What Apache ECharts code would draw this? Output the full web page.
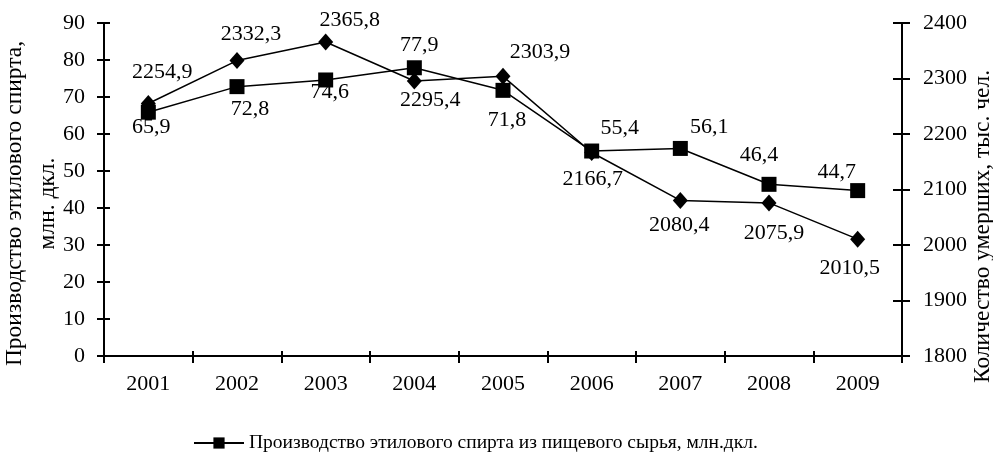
<!DOCTYPE html>
<html>
<head>
<meta charset="utf-8">
<style>
    html, body { margin: 0; padding: 0; background: #fff; }
    #chart { width: 993px; height: 452px; }
</style>
<script src="https://cdn.jsdelivr.net/npm/echarts@6/dist/echarts.min.js"></script>
</head>
<body>
<div id="chart"></div>
<script>
    // годы
    var years = ['2001', '2002', '2003', '2004', '2005', '2006', '2007', '2008', '2009'];
    // производство этилового спирта, млн. дкл.
    var spirit = [65.9, 72.8, 74.6, 77.9, 71.8, 55.4, 56.1, 46.4, 44.7];
    // количество умерших, тыс. чел.
    var deaths = [2254.9, 2332.3, 2365.8, 2295.4, 2303.9, 2166.7, 2080.4, 2075.9, 2010.5];

    // смещения подписей относительно точек
    var spiritLabelOffsets = [[3, 15], [13, 23], [4, 12], [5, -23], [4, 30], [28, -23], [29, -21], [-10, -29], [-21, -18]];
    var deathLabelOffsets = [[14, -31], [14, -26], [24, -22], [16, 19], [37, -24], [1, 27], [-1, 25], [5, 30], [-8, 29]];

    var font = '"Liberation Serif", "Times New Roman", serif';

    function fmt(v) {
        return v.toFixed(1).replace('.', ',');
    }

    function withLabels(values, offsets) {
        return values.map(function(v, i) {
            return {
                value: v,
                label: { offset: offsets[i] }
            };
        });
    }

    var myChart = echarts.init(document.getElementById('chart'));

    var axisLine = { show: true, lineStyle: { color: '#000', width: 2 } };
    var tickStyle = { color: '#000', width: 2 };

    var option = {
        animation: false,
        backgroundColor: '#fff',
        textStyle: { fontFamily: font, color: '#000' },
        grid: {
            left: 104,
            right: 91,
            top: 23,
            bottom: 96,
            containLabel: false,
            outerBoundsMode: 'none'
        },
        legend: {
            data: ['Производство этилового спирта из пищевого сырья, млн.дкл.'],
            left: 188,
            top: 428,
            itemWidth: 50,
            itemHeight: 14,
            itemGap: 6,
            textStyle: { fontFamily: font, fontSize: 19.5, color: '#000' }
        },
        xAxis: [{
            type: 'category',
            data: years,
            boundaryGap: true,
            axisLine: axisLine,
            axisTick: { show: true, inside: false, length: 7, lineStyle: tickStyle },
            axisLabel: { margin: 17, fontFamily: font, fontSize: 22, color: '#000' },
            splitLine: { show: false }
        }, {
            // внутренние засечки
            type: 'category',
            data: years,
            position: 'bottom',
            boundaryGap: true,
            axisLine: { show: false },
            axisTick: { show: true, inside: true, length: 5, lineStyle: tickStyle },
            axisLabel: { show: false },
            splitLine: { show: false }
        }],
        yAxis: [{
            type: 'value',
            position: 'left',
            min: 0,
            max: 90,
            interval: 10,
            name: 'Производство этилового спирта,\nмлн. дкл.',
            nameLocation: 'middle',
            nameGap: 40,
            nameRotate: 90,
            nameMoveOverlap: false,
            nameTextStyle: { fontFamily: font, fontSize: 23.5, color: '#000', lineHeight: 33, padding: [0, 28, 0, 0] },
            axisLine: axisLine,
            axisTick: { show: true, inside: false, length: 7, lineStyle: tickStyle },
            axisLabel: { margin: 19, fontFamily: font, fontSize: 22, color: '#000' },
            splitLine: { show: false }
        }, {
            type: 'value',
            position: 'right',
            min: 1800,
            max: 2400,
            interval: 100,
            name: 'Количество умерших, тыс. чел.',
            nameLocation: 'middle',
            nameGap: 69,
            nameRotate: 90,
            nameMoveOverlap: false,
            nameTextStyle: { fontFamily: font, fontSize: 23.5, color: '#000', padding: [0, 74, 0, 0] },
            axisLine: axisLine,
            axisTick: { show: true, inside: false, length: 8, lineStyle: tickStyle },
            axisLabel: {
                margin: 21,
                fontFamily: font,
                fontSize: 22,
                color: '#000',
                formatter: function(v) { return String(v); }
            },
            splitLine: { show: false }
        }, {
            type: 'value',
            position: 'left',
            min: 0,
            max: 90,
            interval: 10,
            axisLine: { show: false },
            axisTick: { show: true, inside: true, length: 6, lineStyle: tickStyle },
            axisLabel: { show: false },
            splitLine: { show: false }
        }, {
            type: 'value',
            position: 'right',
            min: 1800,
            max: 2400,
            interval: 100,
            axisLine: { show: false },
            axisTick: { show: true, inside: true, length: 9, lineStyle: tickStyle },
            axisLabel: { show: false },
            splitLine: { show: false }
        }],
        series: [{
            name: 'Производство этилового спирта из пищевого сырья, млн.дкл.',
            type: 'line',
            yAxisIndex: 0,
            data: withLabels(spirit, spiritLabelOffsets),
            symbol: 'rect',
            symbolSize: 15,
            itemStyle: { color: '#000' },
            lineStyle: { color: '#000', width: 1.5 },
            label: {
                show: true,
                position: 'inside',
                fontFamily: font,
                fontSize: 22,
                color: '#000',
                formatter: function(p) { return fmt(p.value); }
            },
            z: 3
        }, {
            name: 'Количество умерших',
            type: 'line',
            yAxisIndex: 1,
            data: withLabels(deaths, deathLabelOffsets),
            symbol: 'diamond',
            symbolSize: [15, 17],
            itemStyle: { color: '#000' },
            lineStyle: { color: '#000', width: 1.5 },
            label: {
                show: true,
                position: 'inside',
                fontFamily: font,
                fontSize: 22,
                color: '#000',
                formatter: function(p) { return fmt(p.value); }
            },
            z: 2
        }]
    };

    myChart.setOption(option);
</script>
</body>
</html>
